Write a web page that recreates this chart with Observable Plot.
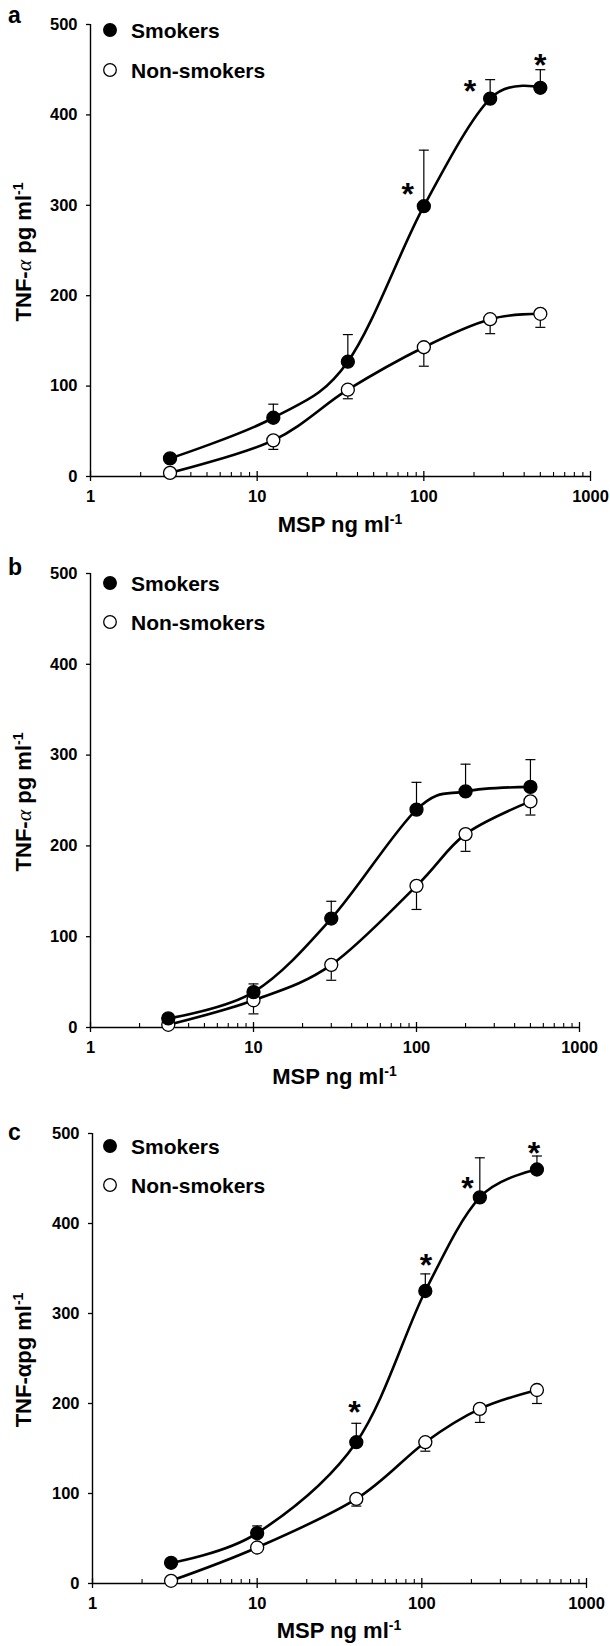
<!DOCTYPE html>
<html>
<head>
<meta charset="utf-8">
<script src="https://cdn.jsdelivr.net/npm/d3@7"></script>
<script src="https://cdn.jsdelivr.net/npm/@observablehq/plot@0.6"></script>
<style>
  html, body { margin: 0; padding: 0; background: #fff; }
  #fig { position: relative; width: 610px; height: 1646px; overflow: hidden;
         font-family: "Liberation Sans", Arial, Helvetica, sans-serif; }
  #fig svg { position: absolute; left: 0; }
</style>
</head>
<body>
<div id="fig"></div>
<script>
// ---------- tick values ----------
const xTicksMajor = [1, 10, 100, 1000];
const xTicksMinor = [2, 3, 4, 5, 6, 7, 8, 9, 20, 30, 40, 50, 60, 70, 80, 90, 200, 300, 400, 500, 600, 700, 800, 900];
const yTicks = [0, 100, 200, 300, 400, 500];
const seriesNames = ["Smokers", "Non-smokers"];

// ---------- panel a ----------
const doseA = [3, 12.5, 35, 100, 250, 500];
const smokA = [20, 65, 127, 299, 418, 430];
const smokErrA = [0, 15, 30, 62, 21, 20];
const nonA = [4, 40, 96, 143, 174, 180];
const nonErrA = [0, 10, 10, 21, 16, 15];
const starXA = [80, 189, 500];
const starYA = [320, 434, 463];

// ---------- panel b ----------
const doseB = [3, 10, 30, 100, 200, 500];
const smokB = [10, 39, 120, 240, 260, 265];
const smokErrB = [0, 9, 19, 30, 30, 30];
const nonB = [3, 30, 69, 156, 213, 249];
const nonErrB = [0, 15, 17, 26, 19, 15];
const starXB = [];
const starYB = [];

// ---------- panel c ----------
const doseC = [3, 10, 40, 105, 225, 500];
const smokC = [23, 56, 157, 325, 429, 460];
const smokErrC = [0, 8, 21, 19, 44, 15];
const nonC = [3, 40, 94, 157, 194, 215];
const nonErrC = [0, 0, 8, 10, 15, 15];
const starXC = [39, 106, 189, 480];
const starYC = [199, 362, 447, 486];

// ---------- layout ----------
const panels = [
  { letter: "a", dose: doseA, smok: smokA, smokErr: smokErrA, non: nonA, nonErr: nonErrA, starX: starXA, starY: starYA,
    alphaItalic: true,
    L: { top: 0, height: 545, mt: 24, mb: 69, ml: 90, mr: 20, letterY: 23, leg: [30, 70], xTitleY: 532 } },
  { letter: "b", dose: doseB, smok: smokB, smokErr: smokErrB, non: nonB, nonErr: nonErrB, starX: starXB, starY: starYB,
    alphaItalic: true,
    L: { top: 545, height: 545, mt: 28, mb: 63, ml: 90, mr: 31, letterY: 30, leg: [38, 77], xTitleY: 539 } },
  { letter: "c", dose: doseC, smok: smokC, smokErr: smokErrC, non: nonC, nonErr: nonErrC, starX: starXC, starY: starYC,
    alphaItalic: false,
    L: { top: 1090, height: 556, mt: 43, mb: 63, ml: 92, mr: 24, letterY: 50, leg: [56, 95], xTitleY: 548 } }
];

const FONT = '"Liberation Sans", Arial, Helvetica, sans-serif';
const capSymbol = { draw(ctx) { ctx.moveTo(-5, 0); ctx.lineTo(5, 0); } };

function makePanel(p) {
  const L = p.L;
  const S = p.dose.map((x, i) => ({ x, y: p.smok[i], e: p.smokErr[i] }));
  const N = p.dose.map((x, i) => ({ x, y: p.non[i], e: p.nonErr[i] }));
  const stars = p.starX.map((x, i) => ({ x, y: p.starY[i] }));
  const Se = S.filter(d => d.e > 0);
  const Ne = N.filter(d => d.e > 0);

  const chart = Plot.plot({
    width: 610, height: L.height,
    marginTop: L.mt, marginBottom: L.mb, marginLeft: L.ml, marginRight: L.mr,
    x: { type: "log", domain: [1, 1000] },
    y: { domain: [0, 500] },
    style: { fontFamily: FONT, fontWeight: "bold", fontSize: "16px", color: "black", background: "transparent", overflow: "visible" },
    marks: [
      Plot.ruleY([0], { stroke: "black", strokeWidth: 1.4 }),
      Plot.ruleX([1], { stroke: "black", strokeWidth: 1.4 }),
      Plot.axisY({ ticks: yTicks, tickSize: 4, tickPadding: 9, fontSize: 16.5, fontWeight: "bold", label: null, strokeWidth: 1.3, tickFormat: d => String(d) }),
      Plot.axisX({ ticks: xTicksMajor, tickSize: 5, tickPadding: 9, fontSize: 16.5, fontWeight: "bold", label: null, strokeWidth: 1.3, tickFormat: d => String(d) }),
      Plot.axisX({ ticks: xTicksMajor, tickSize: -5, tickPadding: 0, label: null, strokeWidth: 1.3, tickFormat: () => "" }),
      Plot.axisX({ ticks: xTicksMinor, tickSize: -4, tickPadding: 0, label: null, strokeWidth: 1.1, tickFormat: () => "" }),
      Plot.line(S, { x: "x", y: "y", curve: "cardinal", stroke: "black", strokeWidth: 2.6 }),
      Plot.line(N, { x: "x", y: "y", curve: "cardinal", stroke: "black", strokeWidth: 2.6 }),
      Plot.ruleX(Se, { x: "x", y1: "y", y2: d => d.y + d.e, stroke: "black", strokeWidth: 1.2 }),
      Plot.dot(Se, { x: "x", y: d => d.y + d.e, symbol: capSymbol, fill: "none", stroke: "black", strokeWidth: 1.2 }),
      Plot.ruleX(Ne, { x: "x", y1: "y", y2: d => d.y - d.e, stroke: "black", strokeWidth: 1.2 }),
      Plot.dot(Ne, { x: "x", y: d => d.y - d.e, symbol: capSymbol, fill: "none", stroke: "black", strokeWidth: 1.2 }),
      Plot.dot(N, { x: "x", y: "y", r: 6.5, fill: "white", stroke: "black", strokeWidth: 1.3 }),
      Plot.dot(S, { x: "x", y: "y", r: 6.5, fill: "black", stroke: "black", strokeWidth: 1.3 }),
      Plot.text(stars, { x: "x", y: "y", text: () => "*", fontSize: 32, fontWeight: "bold", fill: "black", dy: 8 })
    ]
  });

  chart.style.top = L.top + "px";
  const svg = d3.select(chart);
  const plotLeft = L.ml, plotRight = 610 - L.mr;
  const plotTop = L.mt, plotBottom = L.height - L.mb;

  // panel letter
  svg.append("text").attr("x", 8).attr("y", L.letterY).attr("text-anchor", "start")
    .attr("font-family", FONT).attr("font-weight", "bold").attr("font-size", 23)
    .text(p.letter);

  // legend
  seriesNames.forEach((name, i) => {
    const y = L.leg[i];
    svg.append("circle").attr("cx", 110).attr("cy", y).attr("r", 6.3)
      .attr("fill", i === 0 ? "black" : "white").attr("stroke", "black").attr("stroke-width", 1.3);
    svg.append("text").attr("x", 131).attr("y", y + 7.5).attr("text-anchor", "start")
      .attr("font-family", FONT).attr("font-weight", "bold").attr("font-size", 21)
      .text(name);
  });

  // x axis title
  const xt = svg.append("text").attr("x", (plotLeft + plotRight) / 2).attr("y", L.xTitleY)
    .attr("text-anchor", "middle").attr("font-family", FONT).attr("font-weight", "bold").attr("font-size", 22);
  xt.append("tspan").text("MSP ng ml");
  xt.append("tspan").attr("font-size", 14).attr("dy", -8).text("-1");

  // y axis title
  const yt = svg.append("text")
    .attr("transform", `translate(31,${(plotTop + plotBottom) / 2 + 2}) rotate(-90)`)
    .attr("text-anchor", "middle").attr("font-family", FONT).attr("font-weight", "bold").attr("font-size", 22);
  yt.append("tspan").text("TNF-");
  if (p.alphaItalic) {
    yt.append("tspan").attr("font-family", '"Liberation Serif", "Times New Roman", serif')
      .attr("font-style", "italic").attr("font-weight", "normal").text("α");
    yt.append("tspan").text(" pg ml");
  } else {
    yt.append("tspan").text("αpg ml");
  }
  yt.append("tspan").attr("font-size", 14).attr("dy", -8).text("-1");

  return chart;
}

const fig = document.getElementById("fig");
panels.forEach(p => fig.appendChild(makePanel(p)));
</script>
</body>
</html>
